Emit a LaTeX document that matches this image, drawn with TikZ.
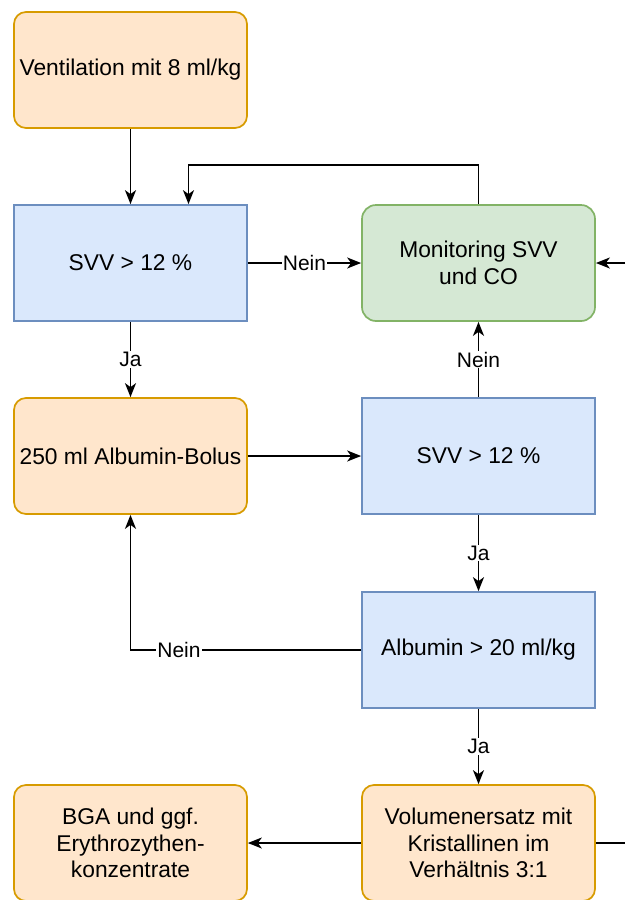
\documentclass[tikz,border=0pt]{standalone}
\usepackage{fontspec}
\setmainfont{Liberation Sans}
\usepackage{tikz}
\usetikzlibrary{shapes}
\usetikzlibrary{arrows.meta}
\usepackage{xcolor}
\definecolor{orfill}{HTML}{FFE6CC}
\definecolor{orline}{HTML}{D79B00}
\definecolor{bluefill}{HTML}{DAE8FC}
\definecolor{blueline}{HTML}{6C8EBF}
\definecolor{greenfill}{HTML}{D5E8D4}
\definecolor{greenline}{HTML}{82B366}

\begin{document}
\begin{tikzpicture}[x=1pt,y=-1pt,line width=1.7pt,
	box/.style={draw,minimum width=233pt,minimum height=116pt,inner sep=2pt,align=center,
		font=\fontsize{22.8}{26.7}\selectfont},
	orbox/.style={box,rounded corners=12pt,fill=orfill,draw=orline},
	bluebox/.style={box,fill=bluefill,draw=blueline},
	greenbox/.style={box,rounded corners=14pt,fill=greenfill,draw=greenline},
	arr/.style={-{Stealth[length=14pt,width=11pt,inset=4pt]}},
	lbl/.style={fill=white,inner sep=1pt,font=\fontsize{21}{24}\selectfont}]
\useasboundingbox (0,0) rectangle (625,900);

\node[orbox] (vent) at (130.5,70) {Ventilation mit 8 ml/kg};
\node[bluebox] (svva) at (130.5,263) {SVV > 12 \%};
\node[greenbox] (mon) at (478.5,263) {Monitoring SVV\\und CO};
\node[orbox] (bolus) at (130.5,456) {250 ml Albumin-Bolus};
\node[bluebox] (svvb) at (478.5,456) {SVV > 12 \%};
\node[bluebox] (alb) at (478.5,650) {Albumin > 20 ml/kg};
\node[orbox] (vol) at (478.5,843) {Volumenersatz mit\\Kristallinen im\\Verhältnis 3:1};
\node[orbox] (bga) at (130.5,843) {BGA und ggf.\\Erythrozythen-\\konzentrate};

\coordinate (inmon) at (625,263);
\coordinate (outvol) at (625,843);

\draw[arr] (vent) -- (svva);
\draw[arr] (svva) -- node[lbl] {Nein} (mon);
\draw[arr] (mon.north) -- ++(0,-39) -| ([xshift=58pt]svva.north);
\draw[arr] (inmon) -- (mon.east);
\draw[arr] (svva) -- node[lbl] {Ja} (bolus);
\draw[arr] (bolus) -- (svvb);
\draw[arr] (svvb) -- node[lbl] {Nein} (mon);
\draw[arr] (svvb) -- node[lbl] {Ja} (alb);
\draw[arr] (alb.west) -- node[lbl,pos=0.79] {Nein} (bolus.south |- alb.west) -- (bolus.south);
\draw[arr] (alb) -- node[lbl] {Ja} (vol);
\draw[arr] (vol) -- (bga);
\draw (vol.east) -- (outvol);
\end{tikzpicture}
\end{document}
